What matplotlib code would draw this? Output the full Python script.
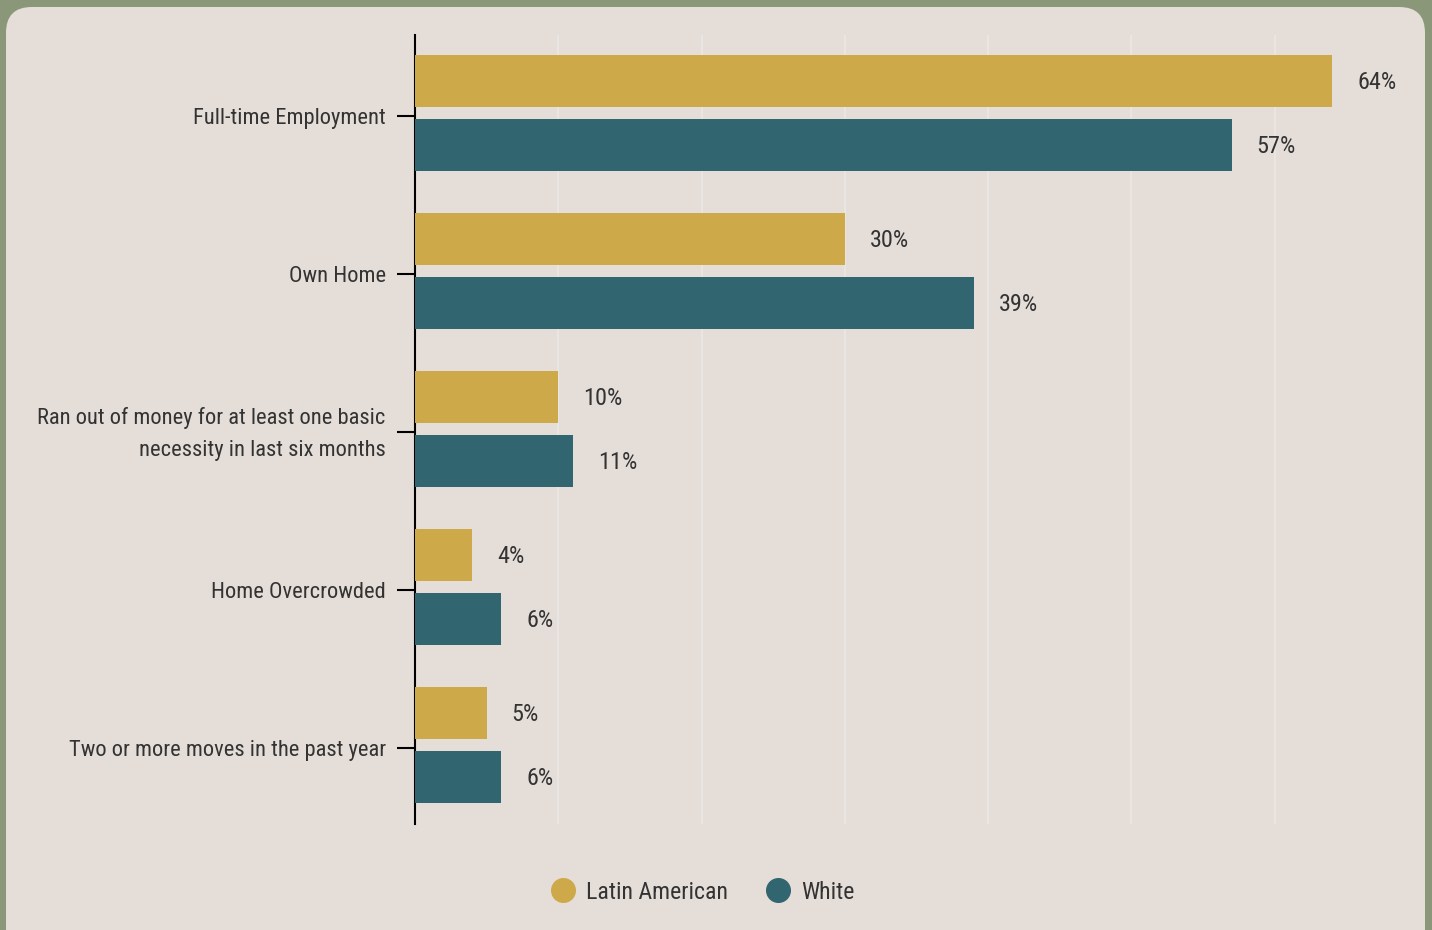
import matplotlib.pyplot as plt
import matplotlib.transforms as mtransforms
from matplotlib.patches import FancyBboxPatch
from matplotlib.lines import Line2D
import numpy as np

plt.rcParams['font.family'] = ['Roboto Condensed', 'Liberation Sans Narrow', 'Roboto', 'DejaVu Sans']

categories = [
    "Full-time Employment",
    "Own Home",
    "Ran out of money for at least one basic\nnecessity in last six months",
    "Home Overcrowded",
    "Two or more moves in the past year",
]
latin_american = [64, 30, 10, 4, 5]
white = [57, 39, 11, 6, 6]
series_names = ["Latin American", "White"]

GOLD = "#cda949"
TEAL = "#31656f"
PANEL = "#e5ded8"
OUTER = "#8a9879"
TEXT = "#333333"

W, H = 1432, 930
fig = plt.figure(figsize=(W / 100, H / 100), dpi=100)
fig.patch.set_facecolor(OUTER)

# rounded light panel
panel = FancyBboxPatch((6 / W, -30 / H), 1419 / W, (H - 7 + 30) / H,
                       boxstyle="round,pad=0,rounding_size=0.018",
                       transform=fig.transFigure, facecolor=PANEL,
                       edgecolor="none", zorder=-5, mutation_aspect=W / H)
fig.patches.append(panel)

ax = fig.add_axes([415 / W, 106 / H, 917 / W, 789 / H])
ax.set_facecolor("none")
ax.set_zorder(2)

y = np.arange(len(categories))
bh = 0.329
off = 0.2025
b1 = ax.barh(y - off, latin_american, height=bh, color=GOLD, zorder=3)
b2 = ax.barh(y + off, white, height=bh, color=TEAL, zorder=3)

for bars, vals in ((b1, latin_american), (b2, white)):
    for b, v in zip(bars, vals):
        ax.text(v + 1.75, b.get_y() + b.get_height() / 2 + 0.012, f"{v}%",
                va="center", ha="left", fontsize=17.5, color=TEXT)

ax.set_xlim(0, 64)
ax.set_ylim(4.5, -0.494)
ax.set_xticks([10, 20, 30, 40, 50, 60])
ax.xaxis.grid(True, color="#e9e5e2", linewidth=1.5, zorder=0)
ax.tick_params(axis="x", length=0, labelbottom=False)
ax.set_yticks(y + 0.019)
ax.set_yticklabels(categories, fontsize=16.2, color=TEXT, linespacing=1.68)
ax.tick_params(axis="y", length=13, width=1.5, color="black", pad=8)

# two-line label sits a bit higher
for lbl in ax.get_yticklabels():
    if "\n" in lbl.get_text():
        lbl.set_transform(lbl.get_transform() +
                          mtransforms.ScaledTranslation(0, 6 / 100, fig.dpi_scale_trans))

for s in ["top", "right", "bottom"]:
    ax.spines[s].set_visible(False)
ax.spines["left"].set_linewidth(1.5)
ax.spines["left"].set_color("black")

handles = [Line2D([], [], marker="o", linestyle="none", markersize=17,
                  markerfacecolor=c, markeredgecolor=c) for c in (GOLD, TEAL)]
fig.legend(handles, series_names, loc="center", bbox_to_anchor=(697 / W, 1 - 892 / H),
           ncol=2, frameon=False, fontsize=17.2, labelcolor=TEXT,
           handletextpad=-0.03, columnspacing=1.1)

fig.savefig("out.png", dpi=100, facecolor=OUTER)
